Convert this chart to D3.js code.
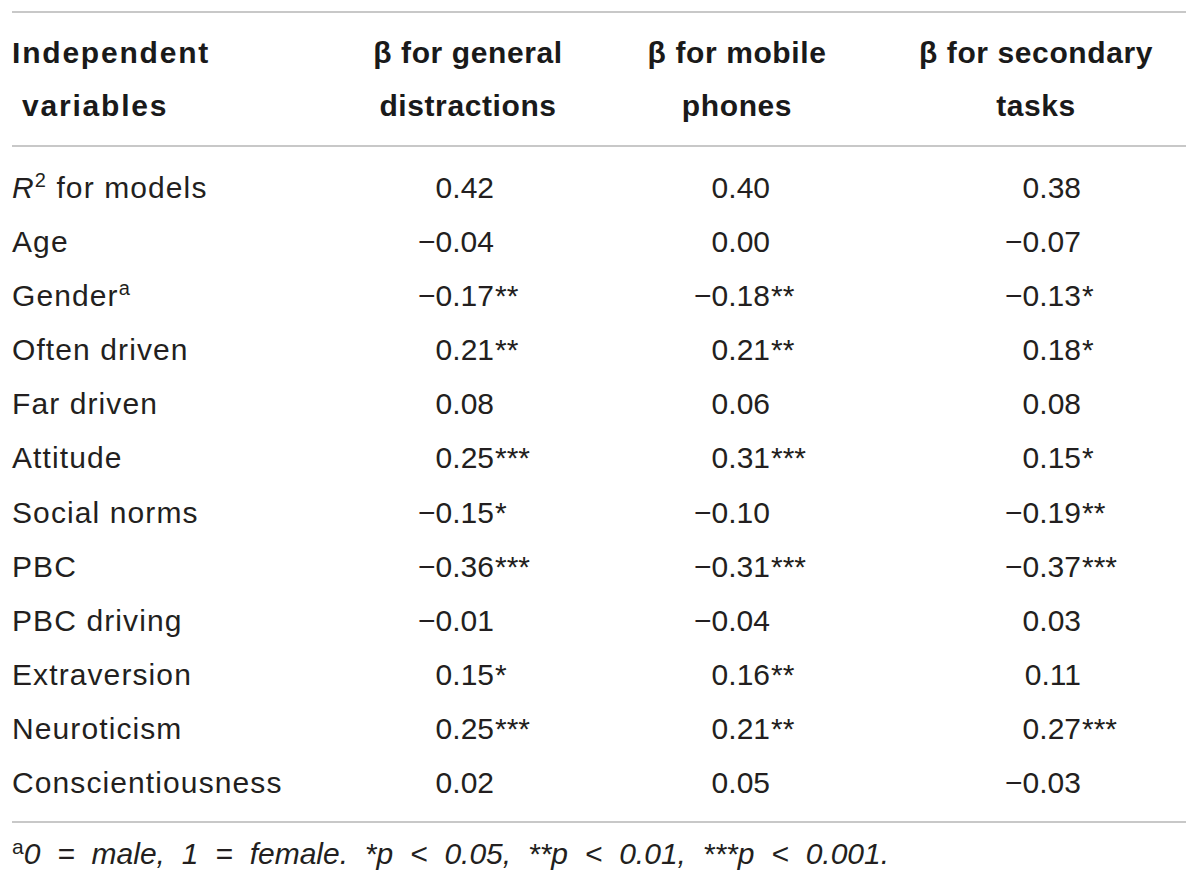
<!DOCTYPE html>
<html>
<head>
<meta charset="utf-8">
<script src="https://cdn.jsdelivr.net/npm/d3@7"></script>
<style>
  body { margin: 0; background: #fff; }
  text { font-family: "Liberation Sans", Arial, Helvetica, sans-serif; }
</style>
</head>
<body>
<svg id="chart" width="1200" height="886"></svg>
<script>
"use strict"

// table content
const headerLines = [
    ["Independent", "variables"],
    ["\u03b2 for general", "distractions"],
    ["\u03b2 for mobile", "phones"],
    ["\u03b2 for secondary", "tasks"]
]

const variables = ["R2 for models", "Age", "Gender", "Often driven", "Far driven", "Attitude",
    "Social norms", "PBC", "PBC driving", "Extraversion", "Neuroticism", "Conscientiousness"]

const generalDistractions = [0.42, -0.04, -0.17, 0.21, 0.08, 0.25, -0.15, -0.36, -0.01, 0.15, 0.25, 0.02]
const generalStars        = [0, 0, 2, 2, 0, 3, 1, 3, 0, 1, 3, 0]

const mobilePhones = [0.40, 0.00, -0.18, 0.21, 0.06, 0.31, -0.10, -0.31, -0.04, 0.16, 0.21, 0.05]
const mobileStars  = [0, 0, 2, 2, 0, 3, 0, 3, 0, 2, 2, 0]

const secondaryTasks = [0.38, -0.07, -0.13, 0.18, 0.08, 0.15, -0.19, -0.37, 0.03, 0.11, 0.27, -0.03]
const secondaryStars = [0, 0, 1, 1, 0, 1, 2, 3, 0, 0, 3, 0]

const footnote = "0 = male, 1 = female. *p < 0.05, **p < 0.01, ***p < 0.001."

const svg = d3.select("#chart")
const fmt = d3.format(".2f")

const left = 12, right = 1186
const fontSize = 30
const textColor = "#231f20"
const ruleColor = "#c8c8c8"

// row positions (baselines)
const y = d3.scalePoint()
    .domain(d3.range(variables.length))
    .range([198, 793])

// columns: header centre and decimal anchor for values
const headerX = [left, 468, 737, 1036]
const valueX = [494, 770, 1081]

const columns = [
    {values: generalDistractions, stars: generalStars},
    {values: mobilePhones, stars: mobileStars},
    {values: secondaryTasks, stars: secondaryStars}
]

// rules
const rules = [12, 146, 822]
svg.selectAll(".rule")
    .data(rules)
    .enter()
    .append("line")
    .attr("class", "rule")
    .attr("x1", left)
    .attr("x2", right)
    .attr("y1", d => d)
    .attr("y2", d => d)
    .style("stroke", ruleColor)
    .style("stroke-width", 2)

// header
const headerBase = [63, 116]
headerLines.forEach((lines, c) => {
    lines.forEach((t, l) => {
        svg.append("text")
            .attr("x", c === 0 && l === 1 ? left + 10 : headerX[c])
            .attr("y", headerBase[l])
            .style("text-anchor", c === 0 ? "start" : "middle")
            .style("font-size", fontSize + "px")
            .style("font-weight", "bold")
            .style("letter-spacing", c === 0 ? "1.8px" : "0.6px")
            .style("fill", "#1a1a1a")
            .text(t)
    })
})

// row labels
const labels = svg.selectAll(".label")
    .data(variables)
    .enter()
    .append("text")
    .attr("class", "label")
    .attr("x", left)
    .attr("y", (d, i) => y(i))
    .style("font-size", fontSize + "px")
    .style("letter-spacing", "1.1px")
    .style("fill", textColor)

labels.each(function (d, i) {
    const t = d3.select(this)
    if (i === 0) {
        t.append("tspan").style("font-style", "italic").text("R")
        t.append("tspan").attr("dy", -11).style("font-size", "20px").text("2")
        t.append("tspan").attr("dy", 11).text(" for models")
    } else if (d === "Gender") {
        t.append("tspan").text("Gender")
        t.append("tspan").attr("dy", -11).style("font-size", "20px").text("a")
    } else {
        t.text(d)
    }
})

// values, aligned on the decimal point
columns.forEach((col, c) => {
    const g = svg.append("g")

    g.selectAll(".num")
        .data(col.values)
        .enter()
        .append("text")
        .attr("class", "num")
        .attr("x", valueX[c])
        .attr("y", (d, i) => y(i))
        .style("text-anchor", "end")
        .style("font-size", fontSize + "px")
        .style("fill", textColor)
        .text(d => fmt(d))

    g.selectAll(".star")
        .data(col.stars)
        .enter()
        .append("text")
        .attr("class", "star")
        .attr("x", valueX[c] + 1)
        .attr("y", (d, i) => y(i))
        .style("text-anchor", "start")
        .style("font-size", fontSize + "px")
        .style("fill", textColor)
        .text(d => "*".repeat(d))
})

// footnote
const foot = svg.append("text")
    .attr("x", left)
    .attr("y", 864)
    .style("font-size", "30px")
    .style("fill", textColor)
foot.append("tspan").attr("dy", -10).style("font-size", "21px").text("a")
foot.append("tspan").attr("dy", 10)
    .style("font-style", "italic")
    .style("word-spacing", "8.5px")
    .text(footnote)
</script>
</body>
</html>
